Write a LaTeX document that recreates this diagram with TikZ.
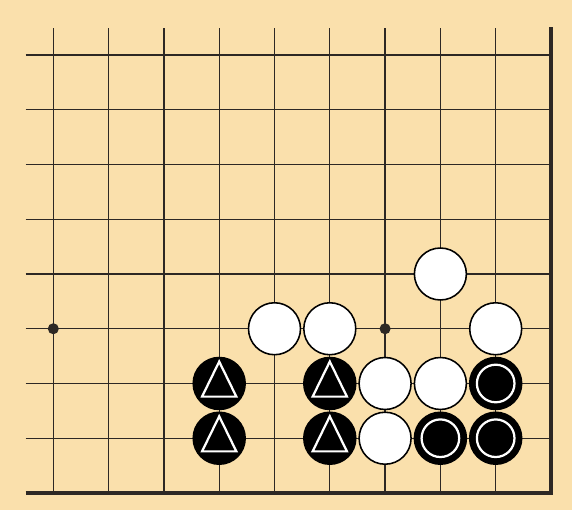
\documentclass[tikz,border=0pt]{standalone}
\usepackage{xcolor}
\definecolor{boardtan}{RGB}{250,224,172}
\definecolor{gridline}{RGB}{45,40,36}

\begin{document}
\begin{tikzpicture}[x=1cm,y=0.99cm,
  grid/.style={gridline,line width=0.65pt},
  edge/.style={gridline,line width=2.3pt},
  hoshi/.style={circle,fill=gridline,inner sep=0pt,minimum size=0.2cm},
  wstone/.style={circle,draw=black,line width=0.8pt,fill=white,inner sep=0pt,minimum size=0.94cm},
  bstone/.style={circle,draw=black,line width=0.8pt,fill=black,inner sep=0pt,minimum size=0.94cm},
  mk/.style={draw=white,line width=1.15pt},
]
% ---- Board ----
\fill[boardtan] (0.036,-0.31) rectangle (10.38,9.005);
\useasboundingbox (0.036,-0.31) rectangle (10.38,9.005);
\foreach \r in {1,...,8}{
  \draw[grid] (0.5,\r) -- (10,\r);
}
\foreach \c in {1,...,9}{
  \draw[grid] (\c,0) -- (\c,8.5);
}
\draw[edge] (0.5,0) -- (10,0) -- (10,8.52);
\node[hoshi] (h1) at (1,3) {};
\node[hoshi] (h2) at (7,3) {};

% ---- White stones ----
\foreach \n/\c/\r in {1/8/4,2/5/3,3/6/3,4/9/3,5/7/2,6/8/2,7/7/1}{
  \node[wstone] (w\n) at (\c,\r) {};
}

% ---- Black stones, triangle marks ----
\foreach \n/\c/\r in {1/4/2,2/4/1,3/6/2,4/6/1}{
  \node[bstone] (t\n) at (\c,\r) {};
  \draw[mk,shift={(t\n.center)}] (0,0.40) -- (0.31,-0.24) -- (-0.31,-0.24) -- cycle;
}

% ---- Black stones, circle marks ----
\foreach \n/\c/\r in {1/9/2,2/8/1,3/9/1}{
  \node[bstone] (o\n) at (\c,\r) {};
  \draw[mk] (o\n.center) circle[radius=0.34cm];
}
\end{tikzpicture}
\end{document}
